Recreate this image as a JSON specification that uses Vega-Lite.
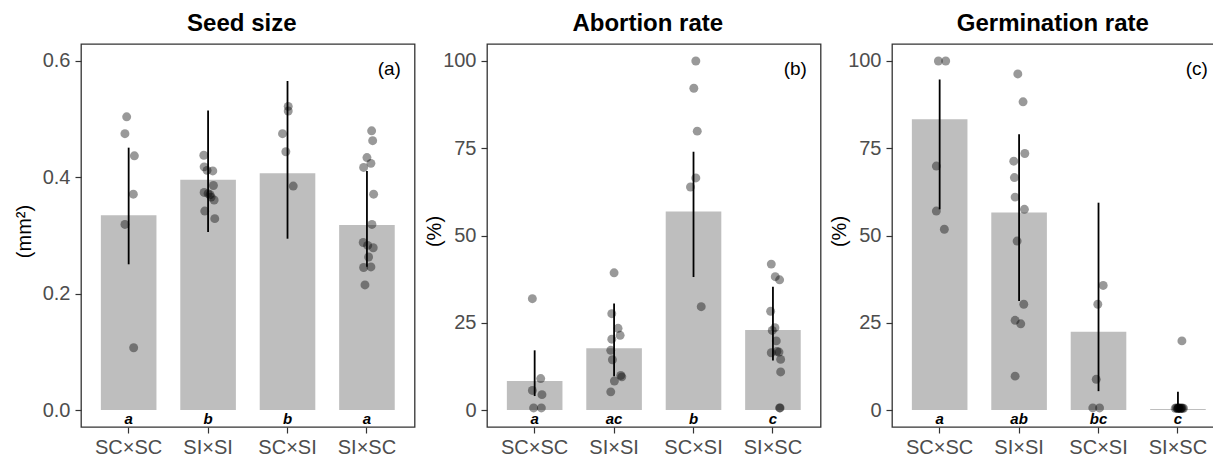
{
  "$schema": "https://vega.github.io/schema/vega-lite/v6.json",
  "padding": {"left": 13, "top": 11, "right": 0, "bottom": 0},
  "spacing": 7,
  "datasets": {
    "bars": [
      {"panel": "a", "cross": "SC×SC", "mean": 0.335, "lo": 0.2505, "hi": 0.451, "letter": "a"},
      {"panel": "a", "cross": "SI×SI", "mean": 0.396, "lo": 0.306, "hi": 0.515, "letter": "b"},
      {"panel": "a", "cross": "SC×SI", "mean": 0.407, "lo": 0.2945, "hi": 0.5656, "letter": "b"},
      {"panel": "a", "cross": "SI×SC", "mean": 0.318, "lo": 0.2464, "hi": 0.411, "letter": "a"},
      {"panel": "b", "cross": "SC×SC", "mean": 8.3, "lo": 4.0, "hi": 17.1, "letter": "a"},
      {"panel": "b", "cross": "SI×SI", "mean": 17.7, "lo": 9.7, "hi": 30.5, "letter": "ac"},
      {"panel": "b", "cross": "SC×SI", "mean": 56.9, "lo": 38.1, "hi": 74.0, "letter": "b"},
      {"panel": "b", "cross": "SI×SC", "mean": 22.9, "lo": 14.2, "hi": 35.3, "letter": "c"},
      {"panel": "c", "cross": "SC×SC", "mean": 83.3, "lo": 57.5, "hi": 94.7, "letter": "a"},
      {"panel": "c", "cross": "SI×SI", "mean": 56.6, "lo": 31.2, "hi": 79.0, "letter": "ab"},
      {"panel": "c", "cross": "SC×SI", "mean": 22.4, "lo": 5.4, "hi": 59.4, "letter": "bc"},
      {"panel": "c", "cross": "SI×SC", "mean": 0.3, "lo": 0.0, "hi": 5.2, "letter": "c"}
    ],
    "points": [
      {"panel": "a", "cross": "SC×SC", "value": 0.504, "jitter": -0.025},
      {"panel": "a", "cross": "SC×SC", "value": 0.475, "jitter": -0.047},
      {"panel": "a", "cross": "SC×SC", "value": 0.437, "jitter": 0.072},
      {"panel": "a", "cross": "SC×SC", "value": 0.371, "jitter": 0.059},
      {"panel": "a", "cross": "SC×SC", "value": 0.319, "jitter": -0.047},
      {"panel": "a", "cross": "SC×SC", "value": 0.107, "jitter": 0.063},
      {"panel": "a", "cross": "SI×SI", "value": 0.438, "jitter": -0.054},
      {"panel": "a", "cross": "SI×SI", "value": 0.418, "jitter": -0.05},
      {"panel": "a", "cross": "SI×SI", "value": 0.412, "jitter": -0.013},
      {"panel": "a", "cross": "SI×SI", "value": 0.411, "jitter": 0.059},
      {"panel": "a", "cross": "SI×SI", "value": 0.386, "jitter": 0.067},
      {"panel": "a", "cross": "SI×SI", "value": 0.374, "jitter": -0.05},
      {"panel": "a", "cross": "SI×SI", "value": 0.372, "jitter": 0.0},
      {"panel": "a", "cross": "SI×SI", "value": 0.370, "jitter": 0.025},
      {"panel": "a", "cross": "SI×SI", "value": 0.366, "jitter": 0.038},
      {"panel": "a", "cross": "SI×SI", "value": 0.361, "jitter": 0.076},
      {"panel": "a", "cross": "SI×SI", "value": 0.342, "jitter": -0.042},
      {"panel": "a", "cross": "SI×SI", "value": 0.329, "jitter": 0.084},
      {"panel": "a", "cross": "SC×SI", "value": 0.522, "jitter": 0.009},
      {"panel": "a", "cross": "SC×SI", "value": 0.514, "jitter": 0.009},
      {"panel": "a", "cross": "SC×SI", "value": 0.475, "jitter": -0.063},
      {"panel": "a", "cross": "SC×SI", "value": 0.444, "jitter": -0.021},
      {"panel": "a", "cross": "SC×SI", "value": 0.385, "jitter": 0.072},
      {"panel": "a", "cross": "SI×SC", "value": 0.480, "jitter": 0.059},
      {"panel": "a", "cross": "SI×SC", "value": 0.463, "jitter": 0.072},
      {"panel": "a", "cross": "SI×SC", "value": 0.434, "jitter": 0.0},
      {"panel": "a", "cross": "SI×SC", "value": 0.424, "jitter": 0.05},
      {"panel": "a", "cross": "SI×SC", "value": 0.417, "jitter": -0.042},
      {"panel": "a", "cross": "SI×SC", "value": 0.371, "jitter": 0.084},
      {"panel": "a", "cross": "SI×SC", "value": 0.319, "jitter": 0.063},
      {"panel": "a", "cross": "SI×SC", "value": 0.288, "jitter": -0.047},
      {"panel": "a", "cross": "SI×SC", "value": 0.283, "jitter": 0.009},
      {"panel": "a", "cross": "SI×SC", "value": 0.279, "jitter": 0.079},
      {"panel": "a", "cross": "SI×SC", "value": 0.263, "jitter": 0.021},
      {"panel": "a", "cross": "SI×SC", "value": 0.245, "jitter": -0.042},
      {"panel": "a", "cross": "SI×SC", "value": 0.246, "jitter": 0.05},
      {"panel": "a", "cross": "SI×SC", "value": 0.215, "jitter": -0.025},
      {"panel": "b", "cross": "SC×SC", "value": 31.9, "jitter": -0.029},
      {"panel": "b", "cross": "SC×SC", "value": 9.0, "jitter": 0.076},
      {"panel": "b", "cross": "SC×SC", "value": 5.6, "jitter": -0.029},
      {"panel": "b", "cross": "SC×SC", "value": 4.4, "jitter": 0.092},
      {"panel": "b", "cross": "SC×SC", "value": 0.6, "jitter": -0.013},
      {"panel": "b", "cross": "SC×SC", "value": 0.6, "jitter": 0.084},
      {"panel": "b", "cross": "SI×SI", "value": 39.3, "jitter": 0.0},
      {"panel": "b", "cross": "SI×SI", "value": 27.6, "jitter": -0.029},
      {"panel": "b", "cross": "SI×SI", "value": 23.4, "jitter": 0.05},
      {"panel": "b", "cross": "SI×SI", "value": 21.4, "jitter": 0.076},
      {"panel": "b", "cross": "SI×SI", "value": 20.3, "jitter": -0.029},
      {"panel": "b", "cross": "SI×SI", "value": 17.1, "jitter": -0.042},
      {"panel": "b", "cross": "SI×SI", "value": 14.4, "jitter": -0.021},
      {"panel": "b", "cross": "SI×SI", "value": 9.9, "jitter": 0.084},
      {"panel": "b", "cross": "SI×SI", "value": 9.5, "jitter": 0.097},
      {"panel": "b", "cross": "SI×SI", "value": 8.3, "jitter": 0.004},
      {"panel": "b", "cross": "SI×SI", "value": 5.2, "jitter": -0.042},
      {"panel": "b", "cross": "SC×SI", "value": 100, "jitter": 0.029},
      {"panel": "b", "cross": "SC×SI", "value": 92.2, "jitter": 0.004},
      {"panel": "b", "cross": "SC×SI", "value": 79.9, "jitter": 0.047},
      {"panel": "b", "cross": "SC×SI", "value": 66.5, "jitter": 0.029},
      {"panel": "b", "cross": "SC×SI", "value": 63.9, "jitter": -0.038},
      {"panel": "b", "cross": "SC×SI", "value": 29.6, "jitter": 0.097},
      {"panel": "b", "cross": "SI×SC", "value": 41.8, "jitter": -0.021},
      {"panel": "b", "cross": "SI×SC", "value": 38.2, "jitter": 0.029},
      {"panel": "b", "cross": "SI×SC", "value": 37.3, "jitter": 0.084},
      {"panel": "b", "cross": "SI×SC", "value": 28.3, "jitter": -0.029},
      {"panel": "b", "cross": "SI×SC", "value": 23.6, "jitter": 0.025},
      {"panel": "b", "cross": "SI×SC", "value": 22.8, "jitter": -0.009},
      {"panel": "b", "cross": "SI×SC", "value": 19.8, "jitter": 0.042},
      {"panel": "b", "cross": "SI×SC", "value": 16.4, "jitter": -0.021},
      {"panel": "b", "cross": "SI×SC", "value": 16.6, "jitter": 0.076},
      {"panel": "b", "cross": "SI×SC", "value": 16.8, "jitter": 0.05},
      {"panel": "b", "cross": "SI×SC", "value": 14.5, "jitter": 0.097},
      {"panel": "b", "cross": "SI×SC", "value": 10.9, "jitter": 0.097},
      {"panel": "b", "cross": "SI×SC", "value": 0.6, "jitter": 0.084},
      {"panel": "b", "cross": "SI×SC", "value": 0.6, "jitter": 0.09},
      {"panel": "c", "cross": "SC×SC", "value": 100, "jitter": -0.016},
      {"panel": "c", "cross": "SC×SC", "value": 100, "jitter": 0.076},
      {"panel": "c", "cross": "SC×SC", "value": 69.9, "jitter": -0.042},
      {"panel": "c", "cross": "SC×SC", "value": 57.0, "jitter": -0.042},
      {"panel": "c", "cross": "SC×SC", "value": 51.8, "jitter": 0.059},
      {"panel": "c", "cross": "SI×SI", "value": 96.3, "jitter": -0.016},
      {"panel": "c", "cross": "SI×SI", "value": 88.3, "jitter": 0.05},
      {"panel": "c", "cross": "SI×SI", "value": 73.5, "jitter": 0.072},
      {"panel": "c", "cross": "SI×SI", "value": 71.3, "jitter": -0.067},
      {"panel": "c", "cross": "SI×SI", "value": 66.6, "jitter": -0.059},
      {"panel": "c", "cross": "SI×SI", "value": 61.0, "jitter": -0.05},
      {"panel": "c", "cross": "SI×SI", "value": 57.5, "jitter": 0.067},
      {"panel": "c", "cross": "SI×SI", "value": 48.4, "jitter": -0.025},
      {"panel": "c", "cross": "SI×SI", "value": 30.3, "jitter": 0.059},
      {"panel": "c", "cross": "SI×SI", "value": 25.7, "jitter": -0.05},
      {"panel": "c", "cross": "SI×SI", "value": 24.7, "jitter": 0.021},
      {"panel": "c", "cross": "SI×SI", "value": 9.7, "jitter": -0.05},
      {"panel": "c", "cross": "SC×SI", "value": 35.7, "jitter": 0.059},
      {"panel": "c", "cross": "SC×SI", "value": 30.3, "jitter": -0.009},
      {"panel": "c", "cross": "SC×SI", "value": 8.8, "jitter": -0.029},
      {"panel": "c", "cross": "SC×SI", "value": 0.6, "jitter": -0.072},
      {"panel": "c", "cross": "SC×SI", "value": 0.6, "jitter": 0.013},
      {"panel": "c", "cross": "SI×SC", "value": 19.8, "jitter": 0.05},
      {"panel": "c", "cross": "SI×SC", "value": 0.5, "jitter": -0.034},
      {"panel": "c", "cross": "SI×SC", "value": 0.6, "jitter": -0.02},
      {"panel": "c", "cross": "SI×SC", "value": 0.4, "jitter": -0.006},
      {"panel": "c", "cross": "SI×SC", "value": 0.6, "jitter": 0.006},
      {"panel": "c", "cross": "SI×SC", "value": 0.5, "jitter": 0.019},
      {"panel": "c", "cross": "SI×SC", "value": 0.4, "jitter": 0.032},
      {"panel": "c", "cross": "SI×SC", "value": 0.6, "jitter": 0.044},
      {"panel": "c", "cross": "SI×SC", "value": 0.5, "jitter": 0.057},
      {"panel": "c", "cross": "SI×SC", "value": 0.5, "jitter": 0.07},
      {"panel": "c", "cross": "SI×SC", "value": 0.6, "jitter": 0.01},
      {"panel": "c", "cross": "SI×SC", "value": 0.5, "jitter": 0.0},
      {"panel": "c", "cross": "SI×SC", "value": 0.5, "jitter": 0.04}
    ]
  },
  "hconcat": [
    {
      "width": 333.6, "height": 383,
      "title": {"text": "Seed size", "dx": -6},
      "resolve": {"scale": {"xOffset": "independent"}},
      "layer": [
        {"data": {"name": "bars"}, "transform": [{"filter": "datum.panel === 'a'"}],
         "mark": {"type": "bar", "color": "#bebebe", "width": {"band": 1}},
         "encoding": {
           "x": {"field": "cross", "type": "nominal", "sort": ["SC×SC", "SI×SI", "SC×SI", "SI×SC"], "scale": {"paddingInner": 0.3, "paddingOuter": 0.25}, "axis": {"title": null, "labelAngle": 0, "labelPadding": 4}},
           "y": {"field": "mean", "type": "quantitative", "scale": {"domain": [-0.0292, 0.6292], "nice": false, "zero": false}, "axis": {"title": "(mm²)", "values": [0, 0.2, 0.4, 0.6], "format": ".1f", "labelPadding": 5, "titleX": -57, "titleY": 187, "titleAngle": 270, "titleBaseline": "middle", "titleAlign": "center"}}
         }},
        {"data": {"name": "points"}, "transform": [{"filter": "datum.panel === 'a'"}],
         "mark": {"type": "circle", "color": "#000", "opacity": 0.4, "size": 80},
         "encoding": {
           "x": {"field": "cross", "type": "nominal", "sort": ["SC×SC", "SI×SI", "SC×SI", "SI×SC"]},
           "xOffset": {"field": "jitter", "type": "quantitative", "scale": {"domain": [-0.35, 0.35]}},
           "y": {"field": "value", "type": "quantitative"}
         }},
        {"data": {"name": "bars"}, "transform": [{"filter": "datum.panel === 'a'"}],
         "mark": {"type": "rule", "color": "#000", "strokeWidth": 1.8},
         "encoding": {
           "x": {"field": "cross", "type": "nominal", "sort": ["SC×SC", "SI×SI", "SC×SI", "SI×SC"]},
           "y": {"field": "lo", "type": "quantitative"},
           "y2": {"field": "hi"}
         }},
        {"data": {"name": "bars"}, "transform": [{"filter": "datum.panel === 'a'"}],
         "mark": {"type": "text", "fontStyle": "italic", "fontWeight": "bold", "fontSize": 15, "baseline": "alphabetic", "color": "#000"},
         "encoding": {
           "x": {"field": "cross", "type": "nominal", "sort": ["SC×SC", "SI×SI", "SC×SI", "SI×SC"]},
           "y": {"datum": -0.0246},
           "text": {"field": "letter"}
         }},
        {"data": {"values": [{"lab": "(a)"}]},
         "mark": {"type": "text", "fontSize": 19, "align": "right", "baseline": "middle", "dx": 34, "color": "#000"},
         "encoding": {
           "x": {"datum": "SI×SC"},
           "y": {"datum": 0.586},
           "text": {"field": "lab"}
         }}
      ]
    },
    {
      "width": 333.6, "height": 383,
      "title": {"text": "Abortion rate", "dx": -6},
      "resolve": {"scale": {"xOffset": "independent"}},
      "layer": [
        {"data": {"name": "bars"}, "transform": [{"filter": "datum.panel === 'b'"}],
         "mark": {"type": "bar", "color": "#bebebe", "width": {"band": 1}},
         "encoding": {
           "x": {"field": "cross", "type": "nominal", "sort": ["SC×SC", "SI×SI", "SC×SI", "SI×SC"], "scale": {"paddingInner": 0.3, "paddingOuter": 0.25}, "axis": {"title": null, "labelAngle": 0, "labelPadding": 4}},
           "y": {"field": "mean", "type": "quantitative", "scale": {"domain": [-4.87, 104.87], "nice": false, "zero": false}, "axis": {"title": "(%)", "values": [0, 25, 50, 75, 100], "labelPadding": 5, "titleX": -53, "titleY": 187, "titleAngle": 270, "titleBaseline": "middle", "titleAlign": "center"}}
         }},
        {"data": {"name": "points"}, "transform": [{"filter": "datum.panel === 'b'"}],
         "mark": {"type": "circle", "color": "#000", "opacity": 0.4, "size": 80},
         "encoding": {
           "x": {"field": "cross", "type": "nominal", "sort": ["SC×SC", "SI×SI", "SC×SI", "SI×SC"]},
           "xOffset": {"field": "jitter", "type": "quantitative", "scale": {"domain": [-0.35, 0.35]}},
           "y": {"field": "value", "type": "quantitative"}
         }},
        {"data": {"name": "bars"}, "transform": [{"filter": "datum.panel === 'b'"}],
         "mark": {"type": "rule", "color": "#000", "strokeWidth": 1.8},
         "encoding": {
           "x": {"field": "cross", "type": "nominal", "sort": ["SC×SC", "SI×SI", "SC×SI", "SI×SC"]},
           "y": {"field": "lo", "type": "quantitative"},
           "y2": {"field": "hi"}
         }},
        {"data": {"name": "bars"}, "transform": [{"filter": "datum.panel === 'b'"}],
         "mark": {"type": "text", "fontStyle": "italic", "fontWeight": "bold", "fontSize": 15, "baseline": "alphabetic", "color": "#000"},
         "encoding": {
           "x": {"field": "cross", "type": "nominal", "sort": ["SC×SC", "SI×SI", "SC×SI", "SI×SC"]},
           "y": {"datum": -4.1},
           "text": {"field": "letter"}
         }},
        {"data": {"values": [{"lab": "(b)"}]},
         "mark": {"type": "text", "fontSize": 19, "align": "right", "baseline": "middle", "dx": 34, "color": "#000"},
         "encoding": {
           "x": {"datum": "SI×SC"},
           "y": {"datum": 97.7},
           "text": {"field": "lab"}
         }}
      ]
    },
    {
      "width": 333.6, "height": 383,
      "title": {"text": "Germination rate", "dx": -6},
      "resolve": {"scale": {"xOffset": "independent"}},
      "layer": [
        {"data": {"name": "bars"}, "transform": [{"filter": "datum.panel === 'c'"}],
         "mark": {"type": "bar", "color": "#bebebe", "width": {"band": 1}},
         "encoding": {
           "x": {"field": "cross", "type": "nominal", "sort": ["SC×SC", "SI×SI", "SC×SI", "SI×SC"], "scale": {"paddingInner": 0.3, "paddingOuter": 0.25}, "axis": {"title": null, "labelAngle": 0, "labelPadding": 4}},
           "y": {"field": "mean", "type": "quantitative", "scale": {"domain": [-4.87, 104.87], "nice": false, "zero": false}, "axis": {"title": "(%)", "values": [0, 25, 50, 75, 100], "labelPadding": 5, "titleX": -52.3, "titleY": 187, "titleAngle": 270, "titleBaseline": "middle", "titleAlign": "center"}}
         }},
        {"data": {"name": "points"}, "transform": [{"filter": "datum.panel === 'c'"}],
         "mark": {"type": "circle", "color": "#000", "opacity": 0.4, "size": 80},
         "encoding": {
           "x": {"field": "cross", "type": "nominal", "sort": ["SC×SC", "SI×SI", "SC×SI", "SI×SC"]},
           "xOffset": {"field": "jitter", "type": "quantitative", "scale": {"domain": [-0.35, 0.35]}},
           "y": {"field": "value", "type": "quantitative"}
         }},
        {"data": {"name": "bars"}, "transform": [{"filter": "datum.panel === 'c'"}],
         "mark": {"type": "rule", "color": "#000", "strokeWidth": 1.8},
         "encoding": {
           "x": {"field": "cross", "type": "nominal", "sort": ["SC×SC", "SI×SI", "SC×SI", "SI×SC"]},
           "y": {"field": "lo", "type": "quantitative"},
           "y2": {"field": "hi"}
         }},
        {"data": {"name": "bars"}, "transform": [{"filter": "datum.panel === 'c'"}],
         "mark": {"type": "text", "fontStyle": "italic", "fontWeight": "bold", "fontSize": 15, "baseline": "alphabetic", "color": "#000"},
         "encoding": {
           "x": {"field": "cross", "type": "nominal", "sort": ["SC×SC", "SI×SI", "SC×SI", "SI×SC"]},
           "y": {"datum": -4.1},
           "text": {"field": "letter"}
         }},
        {"data": {"values": [{"lab": "(c)"}]},
         "mark": {"type": "text", "fontSize": 19, "align": "right", "baseline": "middle", "dx": 30, "color": "#000"},
         "encoding": {
           "x": {"datum": "SI×SC"},
           "y": {"datum": 97.7},
           "text": {"field": "lab"}
         }}
      ]
    }
  ],
  "config": {
    "font": "Liberation Sans",
    "view": {"stroke": "#333", "strokeWidth": 1.3},
    "title": {"fontSize": 24, "fontWeight": "bold", "font": "Liberation Sans", "color": "#000", "anchor": "middle", "baseline": "alphabetic", "offset": 8},
    "text": {"font": "Liberation Sans"},
    "axis": {"labelFont": "Liberation Sans", "titleFont": "Liberation Sans", "labelFontSize": 20, "titleFontSize": 20, "labelColor": "#4d4d4d", "tickColor": "#333", "tickSize": 6, "tickWidth": 1.2, "domain": false, "grid": false, "titleFontWeight": "normal", "titleColor": "#000"}
  }
}
